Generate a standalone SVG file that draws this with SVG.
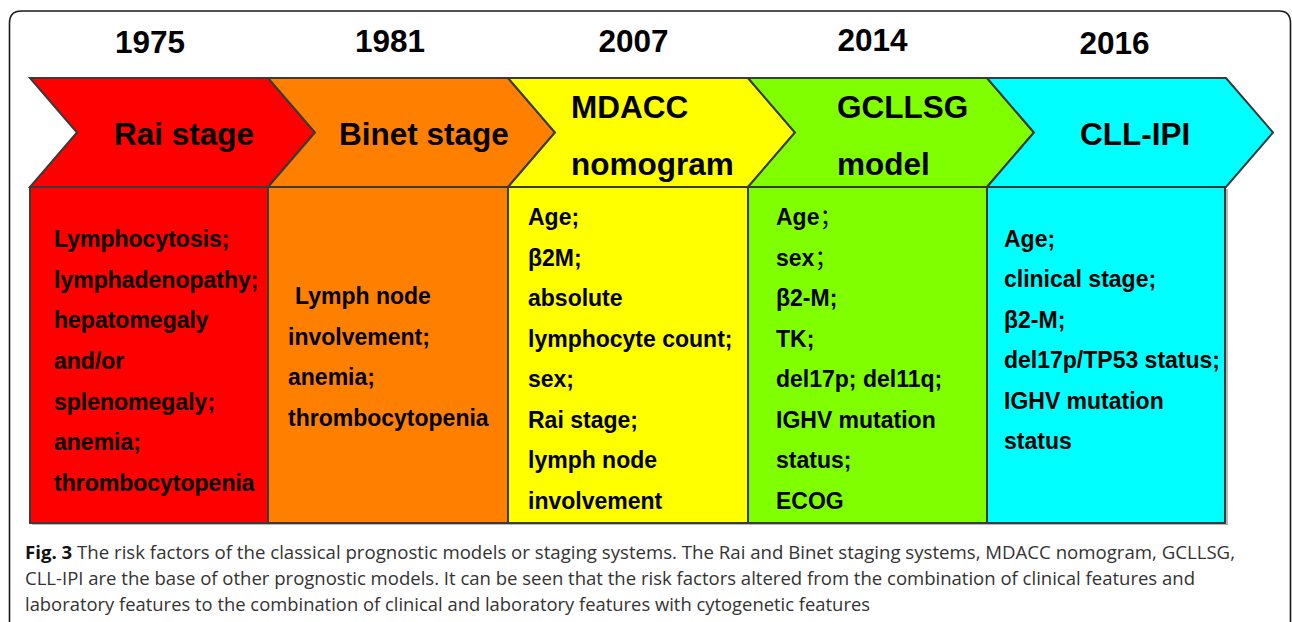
<svg xmlns="http://www.w3.org/2000/svg" width="1292" height="622" viewBox="0 0 1292 622">
<style>
.frame{fill:none;stroke:#1a1a1a;stroke-width:1.6}
.shape{stroke:#3a3a3a;stroke-width:2;stroke-linejoin:miter}
.year{font-family:"Liberation Sans",Arial,sans-serif;font-weight:bold;font-size:31.5px;fill:#000;text-anchor:middle}
.lbl{font-family:"Liberation Sans",Arial,sans-serif;font-weight:bold;font-size:31.5px;fill:#000}
.body{font-family:"Liberation Sans",Arial,"Noto Sans CJK SC",sans-serif;font-weight:bold;font-size:23px;fill:#000}
.fw{font-weight:normal}
.cap{font-family:"Open Sans","Noto Sans",sans-serif;font-size:18px;fill:#333}
.capb{font-weight:bold;fill:#111}
.red{fill:#ff0000}.orange{fill:#ff8000}.yellow{fill:#ffff00}.green{fill:#80ff00}.cyan{fill:#00ffff}
</style>
<rect width="1292" height="622" fill="#fff"/>
<path class="frame" d="M9.5,622 V23 Q9.5,11 21.5,11 H1279 Q1290.5,11 1290.5,23 V622"/>

<g id="years">
<text class="year" x="150" y="53">1975</text>
<text class="year" x="390" y="52">1981</text>
<text class="year" x="633.5" y="52">2007</text>
<text class="year" x="872.5" y="51">2014</text>
<text class="year" x="1114.5" y="54">2016</text>
</g>

<rect x="32" y="189" width="1196" height="336" fill="#b8b8b8"/>

<g id="connectors"></g>

<g id="rai">
<polygon class="shape red" points="30,78 268,78 315,132.5 268,187 30,187 77,132.5"/>
<text class="lbl" x="114" y="145">Rai stage</text>
<rect class="shape red" x="30" y="187" width="238" height="336"/>
<text class="body" x="54" y="247">Lymphocytosis;</text>
<text class="body" x="54" y="287.7">lymphadenopathy;</text>
<text class="body" x="54" y="328.3">hepatomegaly</text>
<text class="body" x="54" y="369">and/or</text>
<text class="body" x="54" y="409.7">splenomegaly;</text>
<text class="body" x="54" y="450.3">anemia;</text>
<text class="body" x="54" y="491">thrombocytopenia</text>
</g>

<g id="binet">
<polygon class="shape orange" points="268,78 508,78 555,132.5 508,187 268,187 315,132.5"/>
<text class="lbl" x="339" y="145">Binet stage</text>
<rect class="shape orange" x="268" y="187" width="240" height="336"/>
<text class="body" x="295" y="304">Lymph node</text>
<text class="body" x="288" y="344.5">involvement;</text>
<text class="body" x="288" y="385">anemia;</text>
<text class="body" x="288" y="425.5">thrombocytopenia</text>
</g>

<g id="mdacc">
<polygon class="shape yellow" points="508,78 748,78 795,132.5 748,187 508,187 555,132.5"/>
<text class="lbl" x="571" y="118">MDACC</text>
<text class="lbl" x="571" y="175">nomogram</text>
<rect class="shape yellow" x="508" y="187" width="240" height="336"/>
<text class="body" x="528" y="225">Age;</text>
<text class="body" x="528" y="265.5">β2M;</text>
<text class="body" x="528" y="306">absolute</text>
<text class="body" x="528" y="346.5">lymphocyte count;</text>
<text class="body" x="528" y="387">sex;</text>
<text class="body" x="528" y="427.5">Rai stage;</text>
<text class="body" x="528" y="468">lymph node</text>
<text class="body" x="528" y="508.5">involvement</text>
</g>

<g id="gcllsg">
<polygon class="shape green" points="748,78 987,78 1034,132.5 987,187 748,187 795,132.5"/>
<text class="lbl" x="837" y="118">GCLLSG</text>
<text class="lbl" x="837" y="175">model</text>
<rect class="shape green" x="748" y="187" width="239" height="336"/>
<text class="body" x="776" y="225">Age<tspan class="fw">；</tspan></text>
<text class="body" x="776" y="265.5">sex<tspan class="fw">；</tspan></text>
<text class="body" x="776" y="306">β2-M;</text>
<text class="body" x="776" y="346.5">TK;</text>
<text class="body" x="776" y="387">del17p; del11q;</text>
<text class="body" x="776" y="427.5">IGHV mutation</text>
<text class="body" x="776" y="468">status;</text>
<text class="body" x="776" y="508.5">ECOG</text>
</g>

<g id="cllipi">
<polygon class="shape cyan" points="987,78 1226,78 1273,132.5 1226,187 987,187 1034,132.5"/>
<text class="lbl" x="1080" y="145">CLL-IPI</text>
<rect class="shape cyan" x="987" y="187" width="238" height="336"/>
<text class="body" x="1004" y="246.7">Age;</text>
<text class="body" x="1004" y="287.2">clinical stage;</text>
<text class="body" x="1004" y="327.7">β2-M;</text>
<text class="body" x="1004" y="368.2">del17p/TP53 status;</text>
<text class="body" x="1004" y="408.7">IGHV mutation</text>
<text class="body" x="1004" y="449.2">status</text>
</g>

<g id="caption">
<text class="cap" x="25" y="558.5" textLength="1210" lengthAdjust="spacingAndGlyphs"><tspan class="capb">Fig. 3</tspan> The risk factors of the classical prognostic models or staging systems. The Rai and Binet staging systems, MDACC nomogram, GCLLSG,</text>
<text class="cap" x="25" y="584.5" textLength="1170" lengthAdjust="spacingAndGlyphs">CLL-IPI are the base of other prognostic models. It can be seen that the risk factors altered from the combination of clinical features and</text>
<text class="cap" x="25" y="610.5" textLength="845" lengthAdjust="spacingAndGlyphs">laboratory features to the combination of clinical and laboratory features with cytogenetic features</text>
</g>
</svg>
